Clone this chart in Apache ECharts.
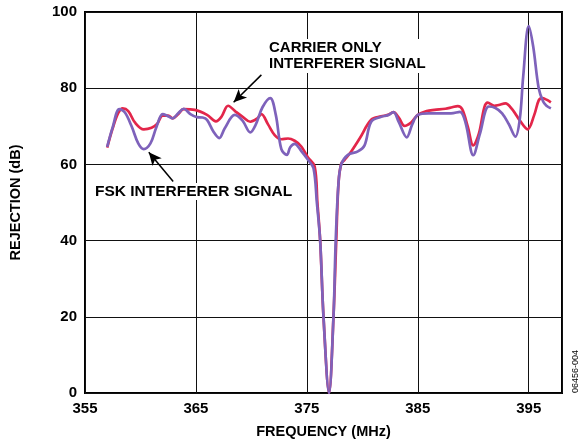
<!DOCTYPE html>
<html>
<head>
<meta charset="utf-8">
<script src="https://cdn.jsdelivr.net/npm/echarts@6/dist/echarts.min.js"></script>
<style>
html,body{margin:0;padding:0;background:#fff;}
#chart{width:582px;height:446px;}
</style>
</head>
<body>
<div id="chart"></div>
<script>
// Carrier-only interferer (red)
const carrierFreq = [357.0,357.5,358.0,358.4,358.9,359.5,360.3,361.0,361.5,362.0,362.5,362.9,363.4,363.9,364.9,366.0,366.8,367.3,367.9,368.6,369.3,369.9,370.5,370.9,371.5,372.1,372.7,373.3,373.9,374.5,375.1,375.7,375.95,376.2,376.5,377.0,377.4,377.65,377.85,378.1,378.4,379.0,379.8,380.8,381.7,382.3,382.8,383.3,383.8,384.4,385.0,385.8,386.5,387.5,388.1,388.6,389.0,389.5,390.0,390.5,391.0,391.3,391.9,392.3,392.9,393.5,394.2,394.9,395.5,395.9,396.2,396.6,397.0];
const carrierRej  = [64.4,69.5,73.5,74.7,74.0,71.0,69.2,69.6,70.6,72.8,72.8,72.1,73.2,74.5,74.3,73.0,71.3,72.5,75.4,73.8,72.3,71.2,72.0,73.2,70.5,67.7,66.6,66.8,66.2,64.7,61.8,59.5,50,40,20,0,20,40,55,60.2,61.2,63.4,67,71.7,72.6,73.0,73.7,72.2,70.1,71.0,73.0,74.0,74.3,74.6,75.0,75.3,74.5,70,65.0,68,75.0,76.2,75.4,75.6,76.0,74.5,71.5,69.2,73,76.8,77.4,77,76.3];
// FSK interferer (purple)
const fskFreq = [357.0,357.5,358.1,358.6,359.2,359.8,360.3,360.9,361.4,362.0,362.4,362.9,363.4,363.9,364.5,365.1,365.6,366.0,366.6,367.1,367.6,368.5,369.2,369.9,370.4,371.0,371.7,372.2,372.7,373.2,373.5,373.9,374.5,375.1,375.6,375.9,376.2,376.5,377.0,377.4,377.6,377.85,378.1,378.7,379.6,380.2,380.8,381.7,382.3,382.8,383.3,384.0,384.5,385.0,386.0,387.0,388.0,388.8,389.3,390.0,390.6,391.4,392.0,392.6,393.2,393.8,394.2,394.5,395.0,395.4,395.9,396.3,396.6,397.0];
const fskRej  = [64.6,69.8,74.5,73.6,70.0,65.5,64.0,65.5,69.5,73.2,72.8,72.1,73.4,74.6,73.2,72.4,72.3,71.7,68.5,66.9,69.5,73.0,71.5,68.4,70.5,75,77.4,73,64.0,62.5,64.5,65.4,63.5,61.2,59.0,50,40,20,0,20,40,55,60,62.5,63.4,65.0,71.2,72.5,72.9,73.7,71.0,67.1,70.5,73.0,73.4,73.4,73.4,73.8,71,62.4,68,75.2,74.8,73.4,70.6,67.3,72,83,96.3,91,80,76.5,75.4,74.7];
const xTicks = [355,365,375,385,395];
const yTicks = [0,20,40,60,80,100];

const toPairs = (xs, ys) => xs.map((x, i) => [x, ys[i]]);
const FONT = '"Liberation Sans", Arial, sans-serif';

const chart = echarts.init(document.getElementById('chart'), null, {renderer: 'canvas'});
chart.setOption({
  animation: false,
  backgroundColor: '#fff',
  grid: {left: 83.5, right: 20, top: 12, bottom: 53, show: true, borderColor: '#000', borderWidth: 2, backgroundColor: 'transparent'},
  xAxis: {
    type: 'value', min: 355, max: 398, interval: 10,
    name: 'FREQUENCY (MHz)', nameLocation: 'middle', nameGap: 31,
    nameTextStyle: {fontFamily: FONT, fontWeight: 'bold', fontSize: 14.5, color: '#000'},
    axisLine: {show: false}, axisTick: {show: false},
    axisLabel: {margin: 8, fontFamily: FONT, fontWeight: 'bold', fontSize: 15, color: '#000',
      formatter: v => xTicks.indexOf(Math.round(v)) >= 0 && Math.abs(v - Math.round(v)) < 1e-6 ? String(Math.round(v)) : ''},
    splitLine: {show: true, lineStyle: {color: '#111', width: 1}}
  },
  yAxis: {
    type: 'value', min: 0, max: 100, interval: 20,
    name: 'REJECTION (dB)', nameLocation: 'middle', nameGap: 62,
    nameTextStyle: {fontFamily: FONT, fontWeight: 'bold', fontSize: 14.5, color: '#000'},
    axisLine: {show: false}, axisTick: {show: false},
    axisLabel: {margin: 8, fontFamily: FONT, fontWeight: 'bold', fontSize: 15, color: '#000',
      formatter: v => yTicks.indexOf(v) >= 0 ? String(v) : ''},
    splitLine: {show: true, lineStyle: {color: '#111', width: 1}}
  },
  series: [
    {
      name: 'CARRIER ONLY INTERFERER SIGNAL', type: 'line', data: toPairs(carrierFreq, carrierRej),
      smooth: 0.35, showSymbol: false, z: 3,
      lineStyle: {color: '#e3264a', width: 2.7},
      markLine: {
        silent: true, symbol: ['none', 'arrow'], symbolSize: [9, 13],
        lineStyle: {color: '#000', width: 1.5, type: 'solid'}, label: {show: false},
        data: [
          [{coord: [370.9, 83.5]}, {coord: [368.4, 76.3]}],
          [{coord: [362.95, 55.5]}, {coord: [360.75, 63.2]}]
        ]
      }
    },
    {
      name: 'FSK INTERFERER SIGNAL', type: 'line', data: toPairs(fskFreq, fskRej),
      smooth: 0.35, showSymbol: false, z: 4,
      lineStyle: {color: '#7e62bb', width: 2.7}
    }
  ],
  graphic: [
    {type: 'text', left: 266, top: 39, z: 100, style: {
      text: 'CARRIER ONLY\nINTERFERER SIGNAL', fontFamily: FONT, fontWeight: 'bold', fontSize: 15, lineHeight: 16,
      fill: '#000', backgroundColor: '#fff', padding: [1, 3, 1, 3]}},
    {type: 'text', left: 92, top: 183, z: 100, style: {
      text: 'FSK INTERFERER SIGNAL', fontFamily: FONT, fontWeight: 'bold', fontSize: 15.5, lineHeight: 17,
      fill: '#000', backgroundColor: '#fff', padding: [0, 3, 0, 3]}},
    {type: 'text', x: 580, y: 393, rotation: Math.PI / 2, z: 100, style: {
      text: '06456-004', fontFamily: FONT, fontSize: 9, fill: '#000', align: 'left', verticalAlign: 'bottom'}}
  ]
});
</script>
</body>
</html>
